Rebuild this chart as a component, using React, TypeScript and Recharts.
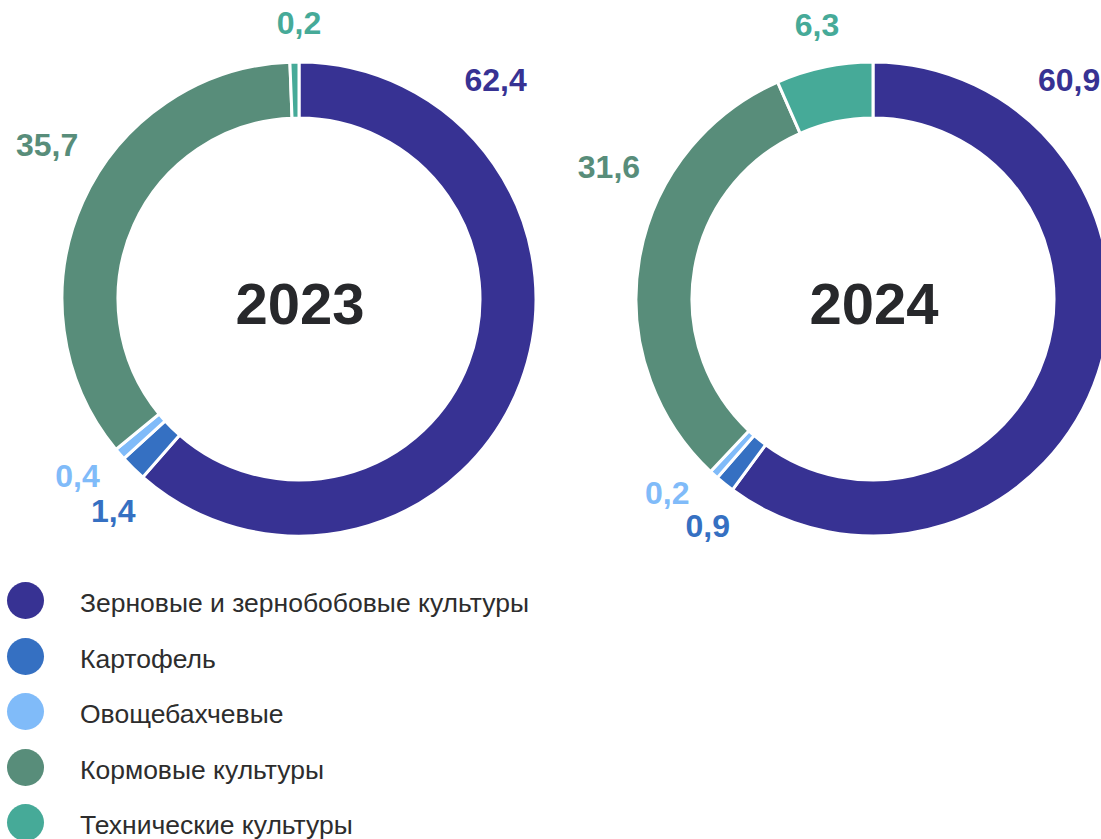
import { Cell, Pie, PieChart } from "recharts";

const CATEGORIES = [
  "Зерновые и зернобобовые культуры",
  "Картофель",
  "Овощебахчевые",
  "Кормовые культуры",
  "Технические культуры",
];
const COLORS = ["#373293", "#3570c2", "#80bbf9", "#588d7a", "#46aa98"];
const YEARS = ["2023", "2024"];
const VALUES_2023 = [62.4, 1.4, 0.4, 35.7, 0.2];
const VALUES_2024 = [60.9, 0.9, 0.2, 31.6, 6.3];

// label placement: shift in degrees from each slice's mid angle
const NUDGE_2023 = [68.4, 3.5, -1.9, -6.6, -0.9];
const NUDGE_2024 = [66.1, 2.9, -4.2, -16.2, 0];

const FONT = '"Liberation Sans", Arial, sans-serif';
const LABEL_SIZE = 32;
const R_OUT = 237;
const R_IN = 181;
const MARGIN = 5; // recharts default chart margin

const fmt = (v: number) => v.toFixed(1).replace(".", ",");

const textWidth = (s: string) =>
  s.split("").reduce((w, ch) => w + (ch === "," ? 0.278 : 0.556), 0) *
  LABEL_SIZE;

const makeLabel = (nudges: number[]) => (props: any) => {
  const { cx, cy, midAngle, outerRadius, index, value } = props;
  const text = fmt(value);
  const a = ((midAngle + nudges[index]) * Math.PI) / 180;
  const w = textWidth(text);
  const r =
    outerRadius +
    25 +
    (Math.abs(Math.cos(a)) * w) / 2 +
    Math.abs(Math.sin(a)) * 11;
  return (
    <text
      x={cx + 1 + r * Math.cos(a)}
      y={cy - 3 - r * Math.sin(a)}
      textAnchor="middle"
      dominantBaseline="central"
      fill={COLORS[index]}
      fontSize={LABEL_SIZE}
      fontWeight={700}
      fontFamily={FONT}
    >
      {text}
    </text>
  );
};

const toRows = (values: number[]) =>
  CATEGORIES.map((name, i) => ({ name, value: values[i] }));

const PIES = [
  { year: YEARS[0], data: toRows(VALUES_2023), nudges: NUDGE_2023, cx: 299 },
  { year: YEARS[1], data: toRows(VALUES_2024), nudges: NUDGE_2024, cx: 873 },
];
const CY = 299;

export default function App() {
  return (
    <div
      style={{
        position: "absolute",
        left: 0,
        top: 0,
        width: 1101,
        height: 839,
        overflow: "hidden",
        background: "#fff",
        fontFamily: FONT,
      }}
    >
      <PieChart width={1101} height={570}>
        {PIES.map((p) => (
          <Pie
            key={p.year}
            data={p.data}
            dataKey="value"
            nameKey="name"
            cx={p.cx - MARGIN}
            cy={CY - MARGIN}
            innerRadius={R_IN}
            outerRadius={R_OUT}
            startAngle={90}
            endAngle={-270}
            minAngle={1.5}
            stroke="#fff"
            strokeWidth={3}
            label={makeLabel(p.nudges)}
            labelLine={false}
            isAnimationActive={false}
          >
            {p.data.map((d, i) => (
              <Cell key={d.name} fill={COLORS[i]} />
            ))}
          </Pie>
        ))}
        {PIES.map((p) => (
          <text
            key={p.year}
            x={p.cx + 1}
            y={CY + 4}
            textAnchor="middle"
            dominantBaseline="central"
            fill="#27282b"
            fontSize={58}
            fontWeight={700}
            fontFamily={FONT}
          >
            {p.year}
          </text>
        ))}
      </PieChart>
      <div style={{ position: "absolute", left: 0, top: 573 }}>
        {CATEGORIES.map((c, i) => (
          <div
            key={c}
            style={{ display: "flex", alignItems: "center", height: 55.5 }}
          >
            <span
              style={{
                width: 37,
                height: 37,
                borderRadius: "50%",
                background: COLORS[i],
                marginLeft: 7,
                flexShrink: 0,
              }}
            />
            <span
              style={{
                marginLeft: 36,
                fontSize: 26.5,
                color: "#2d2d2d",
                paddingTop: 6,
                whiteSpace: "nowrap",
              }}
            >
              {c}
            </span>
          </div>
        ))}
      </div>
    </div>
  );
}
